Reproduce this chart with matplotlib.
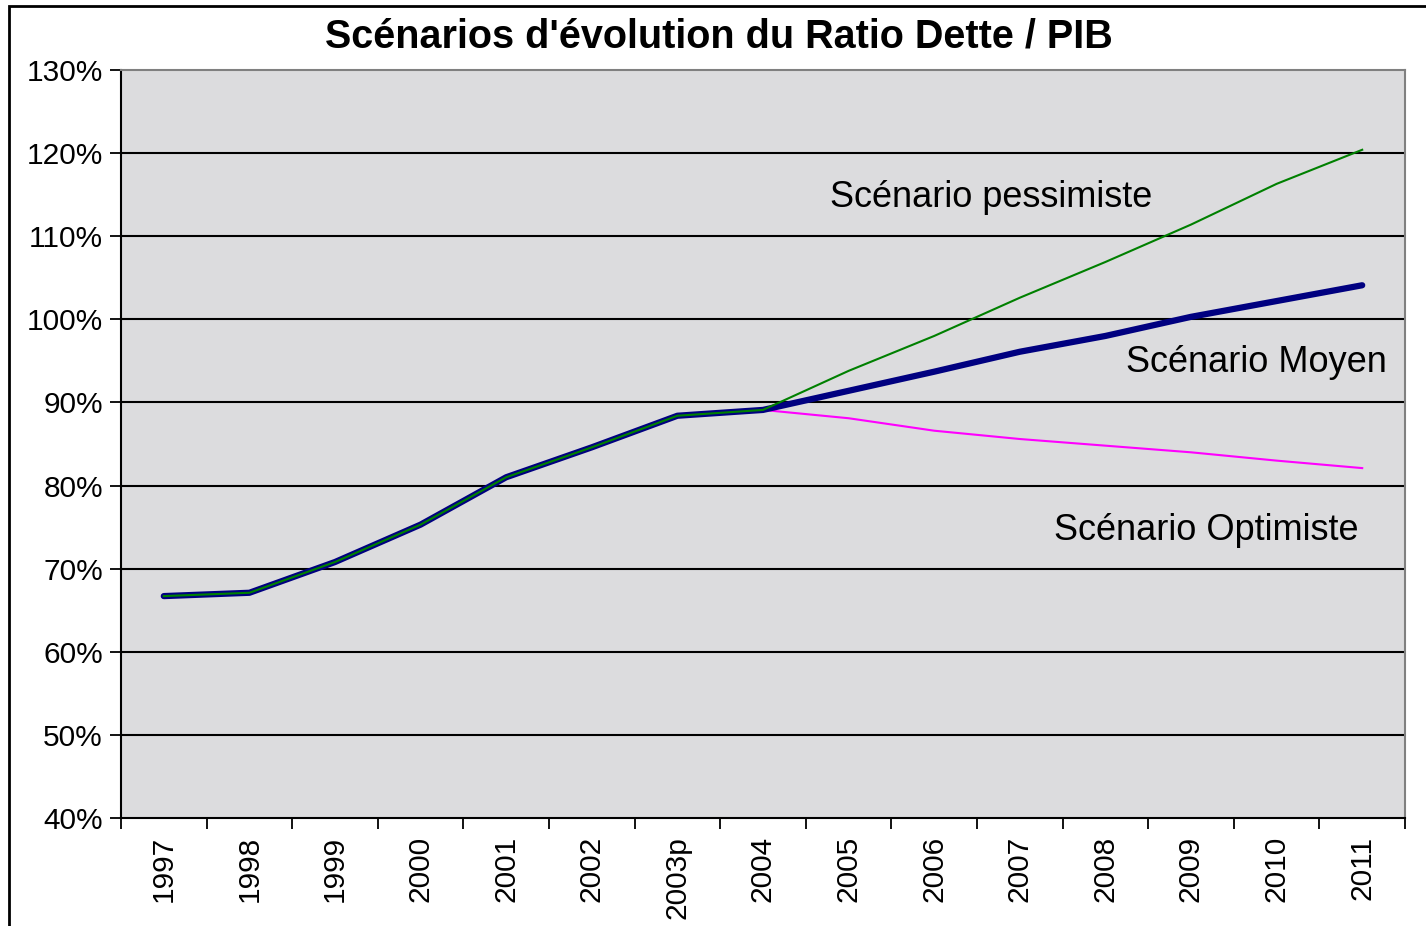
import matplotlib
matplotlib.use("Agg")
import matplotlib.pyplot as plt
from matplotlib.patches import Rectangle

plt.rcParams['font.family'] = ['Liberation Sans', 'DejaVu Sans']

years = ['1997', '1998', '1999', '2000', '2001', '2002', '2003p', '2004',
         '2005', '2006', '2007', '2008', '2009', '2010', '2011']
moyen = [66.7, 67.1, 70.8, 75.3, 81.0, 84.6, 88.4, 89.1,
         91.4, 93.7, 96.1, 98.0, 100.3, 102.2, 104.1]
pessimiste = [66.7, 67.1, 70.8, 75.3, 81.0, 84.6, 88.4, 89.1,
              93.8, 98.0, 102.6, 106.9, 111.4, 116.3, 120.4]
optimiste = [66.7, 67.1, 70.8, 75.3, 81.0, 84.6, 88.4, 89.1,
             88.1, 86.6, 85.6, 84.8, 84.0, 83.0, 82.1]
yticks = [40, 50, 60, 70, 80, 90, 100, 110, 120, 130]

W, H = 1426, 926
fig = plt.figure(figsize=(W / 100, H / 100), dpi=100)
ax = fig.add_axes([121 / W, 1 - 818 / H, (1405 - 121) / W, (818 - 70) / H])
ax.set_facecolor('#DCDCDE')

x = list(range(len(years)))
ax.plot(x, optimiste, color='#FF00FF', lw=1.5, zorder=3)
ax.plot(x, moyen, color='#000080', lw=4.5, solid_capstyle='round', zorder=4)
ax.plot(x, pessimiste, color='#008000', lw=1.5, zorder=5)

ax.set_xlim(-0.5, len(years) - 0.5)
ax.set_ylim(40, 130)
ax.set_yticks(yticks)
ax.set_yticklabels([f'{v}%' for v in yticks], fontsize=21.5)
for v in yticks[1:-1]:
    ax.axhline(v, color='black', lw=1.5, zorder=1)

ax.set_xticks([i - 0.5 for i in range(len(years) + 1)])
ax.set_xticklabels([])
ax.set_xticks(x, minor=True)
ax.set_xticklabels(years, minor=True, rotation=90, fontsize=21.5)
ax.tick_params(axis='x', which='minor', length=0, pad=13)
ax.tick_params(axis='x', which='major', length=8, width=1.3, direction='out')
ax.tick_params(axis='y', length=8, width=1.3, direction='out', pad=5)

for s in ['left', 'bottom']:
    ax.spines[s].set_color('black')
    ax.spines[s].set_linewidth(1.5)
for s in ['top', 'right']:
    ax.spines[s].set_color('#808080')
    ax.spines[s].set_linewidth(1.5)

ax.text(7.78, 114.6, 'Scénario pessimiste', fontsize=26, ha='left', va='center')
ax.text(11.24, 94.8, 'Scénario Moyen', fontsize=26, ha='left', va='center')
ax.text(10.4, 74.6, 'Scénario Optimiste', fontsize=26, ha='left', va='center')

fig.text(719 / W, 1 - 37 / H, "Scénarios d'évolution du Ratio Dette / PIB",
         fontsize=28.5, fontweight='bold', ha='center', va='center')

fig.patches.append(Rectangle((9 / W, -0.01), (W + 10) / W, 1 - 6 / H + 0.01,
                             transform=fig.transFigure, fill=False,
                             edgecolor='black', lw=2))

fig.savefig('out.png', dpi=100, facecolor='white')
